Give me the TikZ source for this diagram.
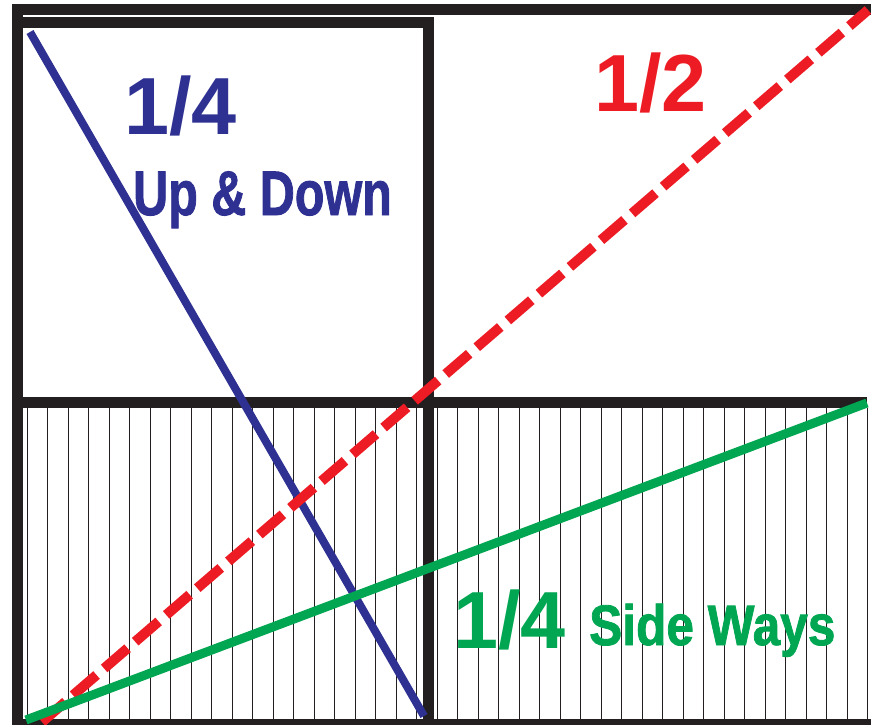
\documentclass[tikz,border=0pt]{standalone}
\usepackage{fontspec}
\setmainfont{Liberation Sans}
\newfontfamily\heavysans[FakeBold=1.5]{Liberation Sans Bold}
\usepackage{graphicx}
\usepackage{tikz}
\usetikzlibrary{positioning}
\usepackage{xcolor}

\definecolor{inkblack}{RGB}{35,31,32}
\definecolor{upblue}{RGB}{46,49,146}
\definecolor{halfred}{RGB}{237,28,36}
\definecolor{sidegreen}{RGB}{0,166,81}

\begin{document}
\begin{tikzpicture}[
    x=1pt, y=-1pt,
    framebar/.style = {draw=inkblack, line width=11pt},
    hatchline/.style = {draw=inkblack, line width=1.3pt},
    fracline/.style = {line width=#1, line cap=butt},
    bignum/.style = {font=\bfseries\fontsize{81}{81}\selectfont, inner sep=0pt, anchor=base west},
    words/.style = {font=\heavysans\fontsize{#1}{#1}\selectfont, inner sep=0pt, anchor=base west}
]
\useasboundingbox (0,0) rectangle (871,725);
\clip (0,0) rectangle (871,725);

% Tier 1: hatched lower half
\foreach \i in {0,...,41}
    \draw [hatchline] (27.3+20.5*\i,408) -- (27.3+20.5*\i,719);

% Tier 2: black frame (outer top, inner box, middle and bottom bars)
\draw [framebar] (12,9.5) -- (871,9.5);
\draw [framebar] (17.5,4) -- (17.5,725);
\draw [framebar] (17.5,23) -- (428.5,23) -- (428.5,725);
\draw [framebar] (17.5,402.5) -- (867,402.5);
\draw [framebar] (12,724.5) -- (871,724.5);

% Tier 3: the three fractions as lines
\coordinate (blue_top) at (30,32);
\coordinate (blue_end) at (424,716);
\coordinate (red_start) at (42,722);
\coordinate (red_end) at (868,10);
\coordinate (green_start) at (26,720);
\coordinate (green_end) at (867,403);

\draw [fracline=8pt, draw=upblue] (blue_top) -- (blue_end);
\draw [fracline=10pt, draw=halfred, dash pattern=on 31pt off 10pt] (red_start) -- (red_end);
\draw [fracline=9pt, draw=sidegreen] (green_start) -- (green_end);

% Tier 4: labels
\node (blue_frac) [bignum, text=upblue] at (124,134) {1/4};
\node (blue_txt) [words=63, text=upblue] at (133,215) {\scalebox{0.77}[1]{Up \& Down}};
\node (red_frac) [bignum, text=halfred] at (594,111) {1/2};
\node (green_frac) [bignum, text=sidegreen] at (453,648) {1/4};
\node (green_txt) [words=57, text=sidegreen] at (589,645) {\scalebox{0.87}[1]{Side Ways}};

\end{tikzpicture}
\end{document}
